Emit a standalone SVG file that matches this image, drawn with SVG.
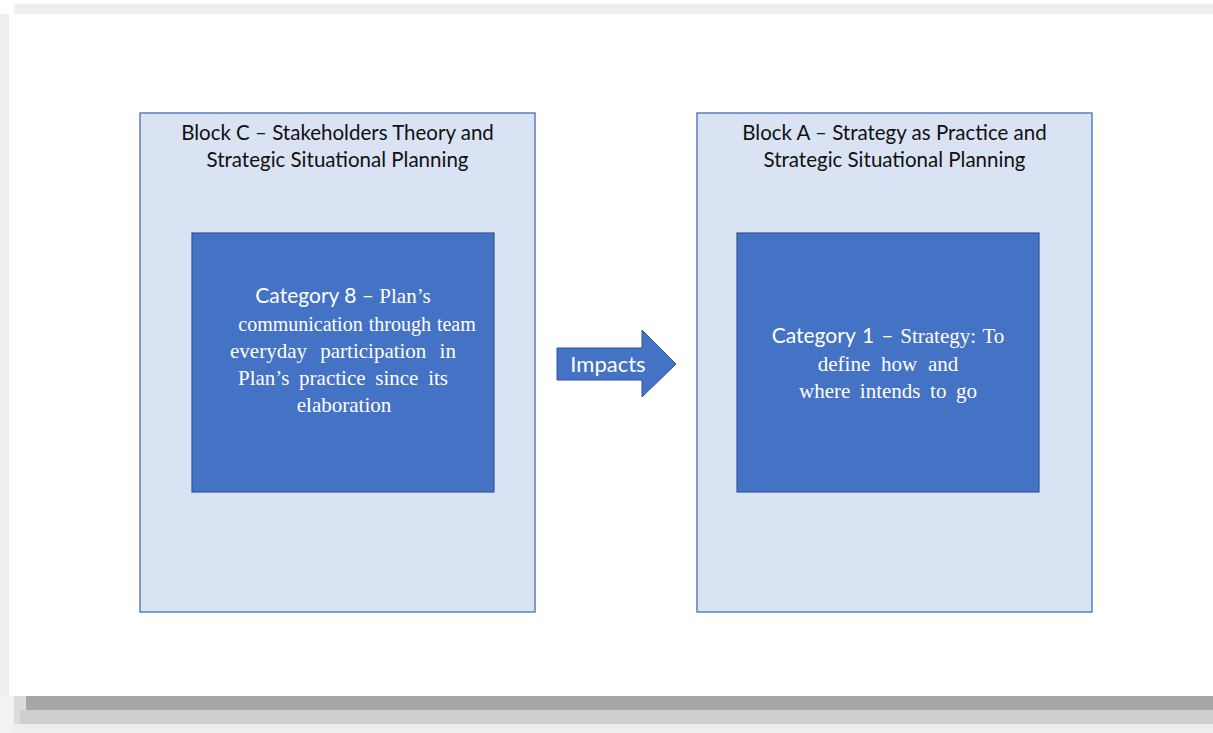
<svg xmlns="http://www.w3.org/2000/svg" width="1213" height="733" viewBox="0 0 1213 733">
<style>
.outer{fill:#dae3f3;stroke:#5b7fc0;stroke-width:1.5}
.inner{fill:#4472c4;stroke:#2f5597;stroke-width:1.2}
.title{font-family:Lato,"Liberation Sans",sans-serif;font-size:20.5px;fill:#111111;text-anchor:middle}
.body{font-family:"Liberation Serif",serif;font-size:21px;fill:#ffffff;text-anchor:middle}
.sans{font-family:Lato,"Liberation Sans",sans-serif}
.lbl{font-family:Lato,"Liberation Sans",sans-serif;font-size:22px;fill:#ffffff;text-anchor:middle}
</style>
<rect x="0" y="0" width="1213" height="733" fill="#ffffff"/>
<g id="frame">
<rect x="14" y="4" width="1199" height="10" fill="#eeeeee"/>
<rect x="0" y="14" width="9" height="682" fill="#eeeeee"/>
<rect x="0" y="696" width="26" height="37" fill="#f2f2f2"/>
<rect x="14" y="696" width="12" height="28" fill="#dcdcdc"/>
<rect x="26" y="696" width="1187" height="14" fill="#a6a6a6"/>
<rect x="20" y="710" width="1193" height="14" fill="#cfcfcf"/>
<rect x="12" y="724" width="1201" height="9" fill="#eeeeee"/>
</g>
<g id="blockC">
<rect class="outer" x="140" y="113" width="395" height="499"/>
<text class="title" x="337.5" y="140">Block C – Stakeholders Theory and</text>
<text class="title" x="337.5" y="167">Strategic Situational Planning</text>
</g>
<g id="cat8">
<rect class="inner" x="192" y="233" width="302" height="259"/>
<text class="body" x="343" y="303"><tspan class="sans">Category 8 – </tspan>Plan’s</text>
<text class="body" x="357" y="331" style="font-size:20px;word-spacing:1px">communication through team</text>
<text class="body" x="343" y="358" word-spacing="8">everyday participation in</text>
<text class="body" x="343" y="385" word-spacing="4.5">Plan’s practice since its</text>
<text class="body" x="344" y="412">elaboration</text>
</g>
<g id="blockA">
<rect class="outer" x="697" y="113" width="395" height="499"/>
<text class="title" x="894.5" y="140">Block A – Strategy as Practice and</text>
<text class="title" x="894.5" y="167">Strategic Situational Planning</text>
</g>
<g id="cat1">
<rect class="inner" x="737" y="233" width="302" height="259"/>
<text class="body" x="888" y="343" word-spacing="1.5"><tspan class="sans">Category 1 – </tspan>Strategy: To</text>
<text class="body" x="888" y="371" word-spacing="5.5">define how and</text>
<text class="body" x="888" y="398" word-spacing="4.3">where intends to go</text>
</g>
<g id="connectors">
<path d="M557,348 H642 V330 L676,364 L642,397 V380 H557 Z" fill="#4472c4" stroke="#2f5597" stroke-width="1"/>
<text class="lbl" x="608" y="371.5">Impacts</text>
</g>
</svg>
